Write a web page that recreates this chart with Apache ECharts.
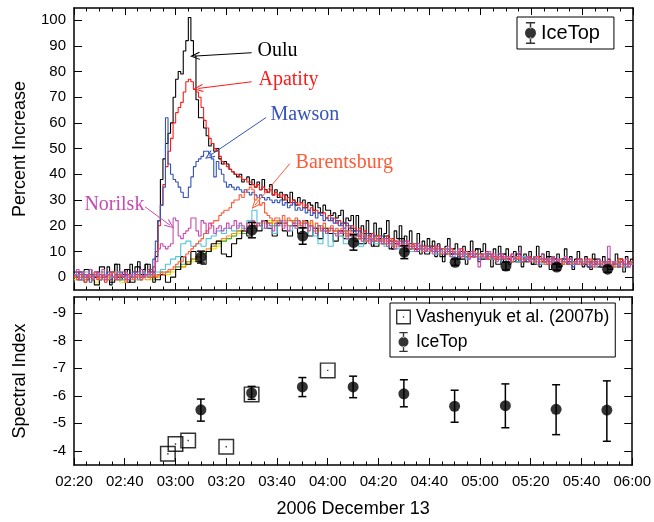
<!DOCTYPE html>
<html>
<head>
<meta charset="utf-8">
<title>2006 December 13</title>
<script src="https://cdn.jsdelivr.net/npm/echarts@6/dist/echarts.min.js"></script>
<style>
html, body { margin: 0; padding: 0; background: #fff; }
#main { width: 654px; height: 522px; }
</style>
</head>
<body>
<div id="main"></div>
<script>
// time axis in minutes after 00:00, first bin starts 02:20
var startMin = 140;

// neutron monitors, 1-minute bins (percent increase)
var oulu = [
    1, -1, 2, 0, -2, 1, 3, -1, 0, 2,
    -1, 1, 0, 4, -3, 2, 5, 0, -1, 1,
    3, -2, 5, 1, 2, 6, -1, 3, 5, 2,
    3, -2, 8, 22, 38, 46, 52, 56, 60, 70,
    77, 80, 79, 88, 92, 101, 92, 86, 69, 62,
    62, 58, 55, 51, 52, 49, 50, 46, 44, 45,
    44, 42, 41, 40, 39, 40, 37, 38, 39, 36,
    38, 35, 37, 34, 38, 34, 33, 36, 32, 34,
    31, 33, 30, 32, 29, 33, 30, 28, 31, 29,
    30, 27, 29, 28, 26, 29, 27, 25, 28, 26,
    26, 24, 25, 23, 24, 26, 21, 23, 22, 24,
    18, 24, 15, 20, 13, 22, 17, 12, 21, 16,
    19, 13, 17, 22, 14, 11, 18, 15, 20, 12,
    16, 10, 18, 13, 11, 17, 9, 14, 12, 15,
    10, 14, 8, 13, 11, 6, 12, 15, 9, 11,
    13, 7, 10, 12, 5, 9, 14, 8, 11, 6,
    10, 13, 7, 9, 4, 11, 8, 12, 6, 9,
    11, 5, 8, 10, 6, 12, 4, 9, 7, 10,
    5, 8, 12, 4, 9, 6, 10, 3, 8, 7,
    9, 4, 7, 11, 5, 8, 3, 7, 10, 6,
    4, 8, 6, 3, 9, 5, 7, 4, 8, 5,
    7, 3, 6, 9, 4, 6, 2, 8, 5, 7
];
var apatity = [
    0, 1, -1, 2, 0, -1, 1, 0, 2, -1,
    1, 0, -2, 1, 2, 0, -1, 1, 0, 2,
    -1, 1, 0, 2, 1, -1, 0, 2, 1, 3,
    1, 4, 10, 20, 28, 36, 43, 49, 54, 60,
    64, 66, 68, 72, 76, 77, 76, 73, 72, 70,
    66, 61, 58, 54, 52, 50, 49, 47, 45, 44,
    43, 42, 41, 40, 40, 39, 38, 38, 37, 37,
    36, 35, 36, 34, 35, 33, 33, 34, 32, 33,
    32, 31, 32, 30, 31, 29, 30, 29, 28, 29,
    27, 28, 26, 27, 25, 26, 25, 24, 25, 23,
    24, 22, 23, 21, 22, 20, 21, 20, 19, 20,
    19, 18, 19, 17, 18, 17, 16, 17, 16, 15,
    16, 14, 15, 16, 13, 15, 14, 13, 14, 12,
    14, 13, 12, 13, 11, 13, 12, 11, 12, 10,
    12, 11, 10, 12, 10, 11, 9, 10, 11, 9,
    10, 9, 11, 8, 10, 9, 8, 10, 9, 8,
    9, 8, 10, 7, 9, 8, 7, 9, 8, 7,
    8, 7, 9, 7, 8, 6, 8, 7, 6, 8,
    7, 6, 8, 7, 6, 7, 5, 7, 6, 7,
    6, 7, 5, 6, 7, 5, 6, 5, 7, 6,
    5, 6, 7, 5, 6, 4, 6, 5, 6, 5,
    6, 4, 5, 6, 5, 7, 4, 5, 6, 5
];
var mawson = [
    1, 0, 2, -1, 1, 0, -2, 1, 2, 0,
    -1, 1, 0, 2, -1, 0, 1, -1, 2, 0,
    1, -1, 0, 2, 0, 1, -1, 2, 1, 0,
    3, 7, 14, 22, 28, 35, 62, 44, 40, 38,
    37, 35, 33, 31, 31, 35, 39, 43, 45, 46,
    47, 49, 49, 48, 46, 39, 45, 42, 40, 37,
    35, 36, 35, 34, 35, 34, 33, 34, 33, 32,
    33, 32, 31, 32, 31, 30, 31, 30, 29, 30,
    29, 30, 28, 29, 27, 28, 29, 26, 27, 26,
    27, 25, 26, 24, 25, 23, 25, 24, 22, 23,
    22, 23, 21, 22, 20, 21, 19, 21, 20, 18,
    18, 16, 18, 17, 15, 17, 16, 14, 16, 15,
    14, 16, 13, 15, 14, 12, 14, 13, 12, 14,
    12, 13, 11, 12, 13, 10, 12, 11, 10, 12,
    11, 10, 12, 9, 11, 10, 9, 11, 10, 9,
    10, 8, 9, 10, 8, 9, 10, 8, 9, 7,
    9, 8, 7, 9, 8, 7, 8, 9, 7, 8,
    7, 8, 6, 8, 7, 6, 8, 7, 6, 7,
    7, 6, 7, 5, 7, 6, 7, 6, 5, 7,
    6, 5, 7, 6, 5, 6, 4, 6, 5, 6,
    5, 6, 4, 6, 5, 6, 5, 4, 6, 5,
    5, 4, 6, 5, 4, 6, 5, 4, 5, 6
];
var barentsburg = [
    0, -1, 1, 0, -2, 1, 0, -1, 2, 0,
    -1, 1, 0, -1, 1, 2, 0, -1, 1, 0,
    -2, 0, 1, -1, 0, 1, -1, 0, 1, 0,
    0, 1, 0, 1, 2, 1, 2, 3, 3, 4,
    5, 6, 6, 8, 9, 10, 11, 12, 13, 14,
    15, 17, 18, 19, 21, 22, 22, 24, 25, 26,
    26, 27, 29, 30, 30, 32, 31, 33, 34, 35,
    34, 30, 31, 28, 29, 25, 24, 23, 22, 23,
    23, 22, 24, 21, 23, 22, 21, 23, 22, 20,
    22, 21, 20, 22, 19, 21, 20, 19, 21, 18,
    19, 20, 18, 19, 17, 19, 18, 16, 18, 17,
    16, 17, 15, 17, 16, 14, 16, 15, 14, 16,
    14, 15, 13, 14, 15, 12, 14, 13, 12, 13,
    12, 13, 11, 13, 12, 11, 12, 10, 12, 11,
    10, 11, 12, 10, 9, 11, 10, 9, 11, 10,
    9, 10, 8, 10, 9, 8, 9, 10, 8, 9,
    8, 9, 7, 8, 9, 7, 8, 7, 9, 8,
    7, 8, 6, 8, 7, 8, 6, 7, 8, 6,
    7, 6, 8, 6, 7, 5, 7, 6, 7, 5,
    6, 7, 5, 6, 7, 5, 6, 6, 5, 7,
    5, 6, 5, 7, 4, 6, 5, 6, 4, 6,
    5, 6, 4, 5, 7, 4, 6, 5, 4, 6
];
var norilsk = [
    1, 3, -1, 2, 0, 1, 3, -1, 1, 2,
    0, 3, -1, 1, 2, 0, -1, 2, 1, 0,
    2, -1, 1, 0, 2, 1, 3, 0, 1, 2,
    1, 2, 6, 11, 13, 12, 11, 12, 13, 23,
    22, 16, 15, 17, 18, 19, 23, 23, 18, 16,
    22, 21, 17, 21, 20, 17, 19, 20, 18, 19,
    21, 19, 20, 22, 19, 21, 20, 18, 21, 20,
    22, 19, 21, 20, 22, 19, 21, 20, 18, 21,
    20, 22, 19, 21, 18, 20, 21, 19, 22, 20,
    19, 21, 18, 20, 19, 17, 20, 18, 19, 17,
    18, 19, 17, 16, 18, 17, 19, 15, 17, 16,
    15, 17, 16, 14, 16, 15, 13, 16, 14, 15,
    14, 13, 15, 12, 14, 13, 11, 14, 12, 13,
    12, 14, 11, 12, 10, 13, 11, 12, 10, 11,
    11, 9, 12, 10, 11, 9, 10, 12, 8, 10,
    9, 11, 8, 10, 9, 7, 10, 8, 9, 4,
    8, 9, 7, 10, 8, 9, 6, 8, 9, 7,
    8, 6, 9, 7, 8, 10, 6, 7, 8, 6,
    7, 8, 5, 7, 9, 6, 7, 5, 8, 6,
    7, 5, 6, 8, 5, 7, 6, 5, 7, 6,
    5, 7, 6, 4, 6, 5, 7, 5, 6, 4,
    12, 5, 6, 5, 4, 6, 5, 7, 4, 5
];

// other stations, 2-minute bins
var packBlack = [
    2, -1, 3, 0, -3, 4, 1, -2, 5, 0,
    3, -2, 4, 1, 5, 2, -1, 1, -2, 0,
    3, 8, 5, 10, 6, 5, 10, 13, 14, 9,
    8, 13, 15, 18, 16, 20, 18, 22, 19, 16,
    21, 18, 16, 20, 17, 22, 16, 19, 15, 19,
    17, 14, 18, 15, 19, 14, 13, 17, 15, 12,
    15, 16, 11, 13, 15, 10, 13, 11, 12, 9,
    12, 10, 8, 11, 9, 10, 7, 10, 8, 11,
    7, 9, 7, 5, 9, 7, 6, 9, 6, 8,
    5, 8, 6, 8, 5, 4, 7, 6, 5, 7,
    5, 4, 7, 4, 6, 3, 5, 7, 4, 6
];
var packCyan = [
    1, -1, 2, 0, 1, -1, 1, 0, 2, -1,
    0, 1, -1, 2, 0, 1, 2, 3, 5, 7,
    8, 13, 14, 12, 13, 12, 15, 16, 18, 17,
    19, 18, 20, 19, 22, 26, 21, 19, 20, 17,
    20, 22, 18, 21, 19, 17, 20, 16, 13, 18,
    12, 17, 16, 13, 15, 16, 12, 14, 15, 13,
    14, 12, 13, 11, 12, 13, 10, 12, 11, 10,
    11, 9, 10, 11, 8, 10, 9, 7, 9, 8,
    8, 9, 7, 8, 6, 8, 7, 6, 8, 7,
    6, 7, 5, 7, 6, 5, 6, 7, 5, 6,
    6, 5, 4, 6, 5, 4, 6, 5, 4, 5
];
var packGreen = [
    0, 1, -1, 1, 0, 2, -1, 0, 1, -1,
    1, 0, 2, 0, 1, 0, 1, 2, 2, 3,
    4, 5, 6, 7, 8, 9, 10, 12, 13, 14,
    15, 16, 18, 17, 19, 21, 20, 22, 21, 20,
    22, 21, 20, 22, 19, 21, 20, 19, 20, 18,
    19, 18, 17, 18, 16, 17, 15, 16, 15, 14,
    15, 13, 14, 13, 12, 13, 11, 12, 11, 12,
    10, 11, 10, 9, 11, 9, 10, 8, 9, 9,
    8, 9, 8, 7, 8, 7, 8, 6, 7, 7,
    7, 6, 7, 6, 7, 5, 6, 7, 5, 6,
    6, 5, 6, 5, 6, 5, 4, 6, 5, 5
];
var packYellow = [
    -1, 0, 1, -1, -2, 0, 1, -1, 0, -2,
    1, 0, -1, 1, 0, -1, 0, 1, 1, 2,
    3, 4, 5, 6, 8, 9, 10, 11, 12, 14,
    15, 16, 17, 18, 19, 20, 21, 21, 22, 21,
    21, 22, 20, 21, 20, 19, 21, 19, 18, 19,
    18, 17, 18, 16, 17, 15, 16, 15, 14, 15,
    14, 13, 14, 12, 13, 12, 11, 12, 11, 10,
    11, 10, 9, 10, 9, 10, 8, 9, 8, 9,
    8, 7, 8, 8, 7, 6, 8, 7, 6, 7,
    6, 7, 6, 5, 7, 6, 5, 6, 6, 5,
    6, 5, 5, 6, 4, 5, 6, 5, 4, 5
];
var packOrange = [
    0, -1, 1, 0, 1, -1, 0, 2, -1, 0,
    1, -1, 0, 1, -1, 0, 1, 1, 2, 3,
    3, 4, 6, 7, 8, 10, 11, 12, 14, 15,
    16, 17, 18, 19, 20, 21, 20, 22, 21, 22,
    21, 20, 22, 20, 21, 19, 20, 18, 19, 18,
    17, 18, 16, 17, 16, 15, 16, 14, 15, 14,
    13, 14, 13, 12, 13, 11, 12, 11, 11, 10,
    10, 11, 9, 10, 9, 10, 9, 8, 9, 8,
    8, 8, 7, 8, 7, 7, 8, 6, 7, 6,
    7, 6, 6, 7, 5, 6, 6, 5, 6, 5,
    5, 6, 5, 5, 6, 4, 5, 6, 5, 5
];

// IceTop, top panel (percent increase)
var iceTime = [190, 210, 230, 250, 270, 290, 310, 330, 350];
var iceRate = [7.8, 18.3, 16, 13.5, 9.7, 5.8, 4.3, 3.9, 3.1];
var iceRateErr = [2.3, 3, 3.2, 3, 2.5, 1.2, 1.5, 1.2, 1.2];
// IceTop, bottom panel (spectral index)
var iceIndex = [-5.49, -6.1, -6.32, -6.32, -6.07, -5.62, -5.64, -5.51, -5.48];
var iceIndexLo = [-5.08, -5.87, -5.97, -5.93, -5.6, -5.04, -4.84, -4.59, -4.35];
var iceIndexHi = [-5.88, -6.34, -6.66, -6.71, -6.58, -6.2, -6.43, -6.4, -6.54];
// Vashenyuk et al. (2007b)
var vashTime = [177, 180, 185, 200, 210, 240];
var vashIndex = [-3.9, -4.25, -4.38, -4.15, -6.05, -6.92];

var rateTicks = [0, 10, 20, 30, 40, 50, 60, 70, 80, 90, 100];
var indexTicks = [-9, -8, -7, -6, -5, -4];

// station labels with arrows (data coordinates)
var labelText = ['Oulu', 'Apatity', 'Mawson', 'Barentsburg', 'Norilsk'];
var labelAt = [[212.0, 88.1], [212.4, 76.7], [217.1, 63.0], [227.0, 44.5], [167.9, 28.0]];
var arrowFrom = [[209.9, 87.3], [209.9, 76.0], [215.6, 62.1], [225.0, 44.2], [167.9, 27.4]];
var arrowTo = [[187.6, 86.0], [188.9, 73.4], [193.2, 47.1], [211.2, 28.0], [177.8, 20.2]];

var sans = 'Liberation Sans, Arial, Helvetica, sans-serif';
var serif = 'Liberation Serif, Times New Roman, serif';
var iceIcon = 'path://M1,0H11V1.6H1Z M5.2,0H6.8V7H5.2Z M5.2,17H6.8V24H5.2Z M1,22.4H11V24H1Z M0,12A6,6 0 1,0 12,12A6,6 0 1,0 0,12Z';
var boxIcon = 'path://M0,0H14V1.3H0Z M0,12.7H14V14H0Z M0,0H1.3V14H0Z M12.7,0H14V14H12.7Z M6.4,6.4H7.6V7.6H6.4Z';
var chevron = 'path://M5,0 L10,10 L8.9,10.6 L5,2.6 L1.1,10.6 L0,10 Z';

function hhmm(v) {
    var h = Math.floor(v / 60), m = v % 60;
    return (h < 10 ? '0' : '') + h + ':' + (m < 10 ? '0' : '') + m;
}

// histogram bins -> step line points
function steps(vals, bin) {
    var out = [];
    for (var i = 0; i < vals.length; i++) {
        out.push([startMin + i * bin, vals[i]]);
    }
    out.push([startMin + vals.length * bin, vals[vals.length - 1]]);
    return out;
}

function stepSeries(name, vals, bin, color, z) {
    return {
        name: name,
        type: 'line',
        step: 'end',
        xAxisIndex: 0,
        yAxisIndex: 0,
        showSymbol: false,
        symbol: 'none',
        z: z,
        lineStyle: { color: color, width: 1.1 },
        data: steps(vals, bin)
    };
}

// arrow + text for a labelled station
function annotate(s, k, color) {
    s.markLine = {
        silent: true,
        animation: false,
        symbol: ['none', chevron],
        symbolSize: [8, 10],
        lineStyle: { color: color, width: 1, type: 'solid' },
        label: { show: false },
        data: [[{ coord: arrowFrom[k] }, { coord: arrowTo[k] }]]
    };
    s.markPoint = {
        silent: true,
        animation: false,
        symbol: 'rect',
        symbolSize: 1,
        itemStyle: { color: 'rgba(0,0,0,0)' },
        label: {
            show: true,
            position: k == 4 ? 'left' : 'right',
            distance: 0,
            formatter: labelText[k],
            color: color,
            fontFamily: serif,
            fontSize: 20
        },
        data: [{ coord: labelAt[k] }]
    };
    return s;
}

function errorBar(params, api) {
    var x = api.value(0);
    var p1 = api.coord([x, api.value(1)]);
    var p2 = api.coord([x, api.value(2)]);
    var w = 4;
    var st = { stroke: '#000', lineWidth: 1.5 };
    return {
        type: 'group',
        children: [
            { type: 'line', shape: { x1: p1[0], y1: p1[1], x2: p2[0], y2: p2[1] }, style: st },
            { type: 'line', shape: { x1: p1[0] - w, y1: p1[1], x2: p1[0] + w, y2: p1[1] }, style: st },
            { type: 'line', shape: { x1: p2[0] - w, y1: p2[1], x2: p2[0] + w, y2: p2[1] }, style: st }
        ]
    };
}

function frame(extra) {
    var a = {
        type: 'value',
        axisLine: { show: true, onZero: false, lineStyle: { color: '#000', width: 1.5 } },
        axisTick: { show: true, inside: true, length: 7, lineStyle: { color: '#000', width: 1 } },
        splitLine: { show: false },
        axisLabel: { show: false }
    };
    for (var key in extra) a[key] = extra[key];
    return a;
}

function timeAxis(grid, pos, labels) {
    return frame({
        gridIndex: grid,
        position: pos,
        min: 140,
        max: 360,
        interval: 20,
        minorTick: { show: true, splitNumber: 4, length: 3.5, lineStyle: { color: '#000', width: 1 } },
        axisLabel: labels ? {
            show: true, margin: 9, color: '#000', fontFamily: sans, fontSize: 15,
            formatter: hhmm
        } : { show: false }
    });
}

var myChart = echarts.init(document.getElementById('main'), null, { renderer: 'canvas' });

var rateData = [], rateErr = [], idxData = [], idxErr = [], vashData = [];
for (var i = 0; i < iceTime.length; i++) {
    rateData.push([iceTime[i], iceRate[i]]);
    rateErr.push([iceTime[i], iceRate[i] - iceRateErr[i], iceRate[i] + iceRateErr[i]]);
    idxData.push([iceTime[i], iceIndex[i]]);
    idxErr.push([iceTime[i], iceIndexLo[i], iceIndexHi[i]]);
}
for (var j = 0; j < vashTime.length; j++) {
    vashData.push([vashTime[j], vashIndex[j]]);
}

var series = [
    stepSeries('Yellow', packYellow, 2, '#e2e200', 2),
    stepSeries('Green', packGreen, 2, '#3cb43c', 2),
    stepSeries('Orange', packOrange, 2, '#ff8c1a', 2),
    stepSeries('Pack', packBlack, 2, '#000000', 2),
    annotate(stepSeries('Oulu', oulu, 1, '#000000', 2), 0, '#000000'),
    annotate(stepSeries('Apatity', apatity, 1, '#ff1a1a', 3), 1, '#ff1a1a'),
    annotate(stepSeries('Mawson', mawson, 1, '#3553b8', 3), 2, '#3553b8'),
    stepSeries('Cyan', packCyan, 2, '#4ec6de', 3),
    annotate(stepSeries('Barentsburg', barentsburg, 1, '#ff5a36', 3), 3, '#ff5a36'),
    annotate(stepSeries('Norilsk', norilsk, 1, '#c84aae', 3), 4, '#c84aae'),
    {
        name: 'IceTop err',
        type: 'custom',
        xAxisIndex: 0,
        yAxisIndex: 0,
        z: 5,
        renderItem: errorBar,
        encode: { x: 0, y: [1, 2] },
        data: rateErr
    },
    {
        name: 'IceTop',
        type: 'scatter',
        xAxisIndex: 0,
        yAxisIndex: 0,
        z: 6,
        symbol: 'circle',
        symbolSize: 11,
        itemStyle: { color: '#000' },
        data: rateData
    },
    {
        name: 'Vashenyuk et al. (2007b)',
        type: 'scatter',
        xAxisIndex: 2,
        yAxisIndex: 2,
        z: 4,
        symbol: boxIcon,
        symbolSize: 16,
        itemStyle: { color: '#000' },
        data: vashData
    },
    {
        name: 'IceTop err',
        type: 'custom',
        xAxisIndex: 2,
        yAxisIndex: 2,
        z: 5,
        renderItem: errorBar,
        encode: { x: 0, y: [1, 2] },
        data: idxErr
    },
    {
        name: 'IceTop',
        type: 'scatter',
        xAxisIndex: 2,
        yAxisIndex: 2,
        z: 6,
        symbol: 'circle',
        symbolSize: 11,
        itemStyle: { color: '#000' },
        data: idxData
    }
];

var option = {
    animation: false,
    backgroundColor: '#fff',
    grid: [
        { left: 74, right: 21, top: 8, height: 282 },
        { left: 74, right: 21, top: 297, height: 168 }
    ],
    legend: [
        {
            data: [{ name: 'IceTop', icon: iceIcon }],
            left: 517,
            top: 17,
            orient: 'vertical',
            itemWidth: 11,
            itemHeight: 22,
            itemGap: 4,
            selectedMode: false,
            borderColor: '#000',
            borderWidth: 1,
            padding: [5, 14, 5, 8],
            textStyle: { color: '#000', fontFamily: sans, fontSize: 20 }
        },
        {
            data: [
                { name: 'Vashenyuk et al. (2007b)', icon: boxIcon },
                { name: 'IceTop', icon: iceIcon }
            ],
            left: 390,
            top: 303,
            orient: 'vertical',
            itemWidth: 15,
            itemHeight: 20,
            itemGap: 6,
            selectedMode: false,
            borderColor: '#000',
            borderWidth: 1,
            padding: [5, 6, 5, 6],
            textStyle: { color: '#000', fontFamily: sans, fontSize: 17.5 }
        }
    ],
    xAxis: [
        timeAxis(0, 'bottom', false),
        timeAxis(0, 'top', false),
        (function () {
            var a = timeAxis(1, 'bottom', true);
            a.name = '2006 December 13';
            a.nameLocation = 'middle';
            a.nameGap = 35;
            a.nameTextStyle = { color: '#000', fontFamily: sans, fontSize: 18 };
            return a;
        })(),
        timeAxis(1, 'top', false)
    ],
    yAxis: [
        frame({
            gridIndex: 0, position: 'left', min: -5, max: 104.7,
            name: 'Percent Increase', nameLocation: 'middle', nameGap: 45,
            nameTextStyle: { color: '#000', fontFamily: sans, fontSize: 18 },
            axisTick: { show: true, inside: true, length: 8, customValues: rateTicks, lineStyle: { color: '#000', width: 1 } },
            axisLabel: { show: true, customValues: rateTicks, margin: 8, color: '#000', fontFamily: sans, fontSize: 15 }
        }),
        frame({
            gridIndex: 0, position: 'right', min: -5, max: 104.7,
            axisTick: { show: true, inside: true, length: 8, customValues: rateTicks, lineStyle: { color: '#000', width: 1 } }
        }),
        frame({
            gridIndex: 1, position: 'left', min: -9.58, max: -3.49, inverse: true,
            name: 'Spectral Index', nameLocation: 'middle', nameGap: 45,
            nameTextStyle: { color: '#000', fontFamily: sans, fontSize: 18 },
            axisTick: { show: true, inside: true, length: 8, customValues: indexTicks, lineStyle: { color: '#000', width: 1 } },
            axisLabel: { show: true, customValues: indexTicks, margin: 8, color: '#000', fontFamily: sans, fontSize: 15 }
        }),
        frame({
            gridIndex: 1, position: 'right', min: -9.58, max: -3.49, inverse: true,
            axisTick: { show: true, inside: true, length: 8, customValues: indexTicks, lineStyle: { color: '#000', width: 1 } }
        })
    ],
    series: series
};
myChart.setOption(option);
</script>
</body>
</html>
